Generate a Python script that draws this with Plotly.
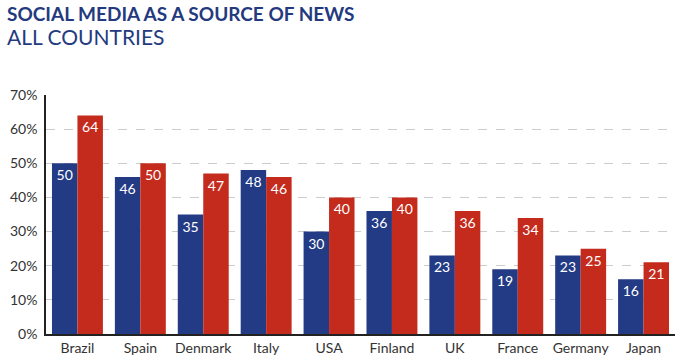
import plotly.graph_objects as go

countries = ["Brazil", "Spain", "Denmark", "Italy", "USA", "Finland", "UK", "France", "Germany", "Japan"]
series_a = [50, 46, 35, 48, 30, 36, 23, 19, 23, 16]
series_b = [64, 50, 47, 46, 40, 40, 36, 34, 25, 21]
tick_vals = [0, 10, 20, 30, 40, 50, 60, 70]
tick_text = ["0%", "10%", "20%", "30%", "40%", "50%", "60%", "70%"]

BLUE = "#233a84"
RED = "#c42b1c"

fig = go.Figure()
for vals, col in ((series_a, BLUE), (series_b, RED)):
    fig.add_bar(x=countries, y=vals, marker=dict(color=col, line=dict(width=0)), text=vals,
                textposition="inside", insidetextanchor="end",
                textfont=dict(color="white", size=14, family="Lato"))

fig.update_layout(
    width=681, height=364,
    margin=dict(l=46, r=6, t=95, b=30),
    barmode="group", bargap=0.19, bargroupgap=0,
    showlegend=False,
    plot_bgcolor="white", paper_bgcolor="white",
    font=dict(family="Lato", color="#333333", size=14),
    uniformtext=dict(minsize=8, mode="show"),
)
fig.update_yaxes(range=[0, 70], tickvals=tick_vals, ticktext=tick_text, automargin=False,
                 showgrid=True, gridcolor="#cccccc", griddash="dash", gridwidth=1,
                 showline=True, linecolor="#222222", linewidth=1.5, ticklabelstandoff=4,
                 ticks="", zeroline=False, tickfont=dict(size=14, color="#333333"))
fig.update_xaxes(showline=True, linecolor="#222222", linewidth=1.5, ticks="", automargin=False,
                 tickfont=dict(size=14, color="#333333"))

fig.add_annotation(text="<b>SOCIAL MEDIA AS A SOURCE OF NEWS</b>", x=-41/629, y=1, xref="paper", yref="paper",
                   xanchor="left", yanchor="top", showarrow=False,
                   font=dict(size=19, color="#243a7f", family="Lato"), yshift=95)
fig.add_annotation(text="ALL COUNTRIES", x=-41/629, y=1, xref="paper", yref="paper",
                   xanchor="left", yanchor="top", showarrow=False,
                   font=dict(size=21, color="#243a7f", family="Lato"), yshift=73)

fig.write_html("out.html", config={"displayModeBar": False},
               post_script="document.body.style.margin='0';")
